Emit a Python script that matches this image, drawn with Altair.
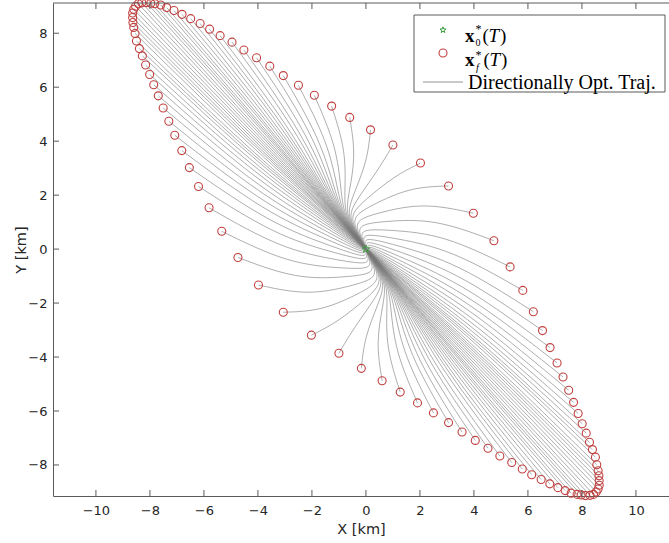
import altair as alt
import pandas as pd
import numpy as np

# ---------------- data ----------------
# final states x_f*(T) (km), going round the reachable-set boundary
xf = [0.17, -0.60, -1.27, -1.91, -2.50, -3.06, -3.56, -4.05, -4.52, -4.96,
      -5.40, -5.79, -6.14, -6.49, -6.81, -7.11, -7.38, -7.60, -7.82, -7.97,
      -8.13, -8.30, -8.43, -8.53, -8.60, -8.64, -8.64, -8.63, -8.60, -8.55,
      -8.50, -8.39, -8.28, -8.16, -8.01, -7.86, -7.69, -7.51, -7.30, -7.08,
      -6.82, -6.54, -6.20, -5.81, -5.34, -4.74, -3.98, -3.06, -2.02, -1.00,
      -0.17, 0.60, 1.27, 1.91, 2.50, 3.06, 3.56, 4.05, 4.52, 4.96,
      5.40, 5.79, 6.14, 6.49, 6.81, 7.11, 7.38, 7.60, 7.82, 7.97,
      8.13, 8.30, 8.43, 8.53, 8.60, 8.64, 8.64, 8.63, 8.60, 8.55,
      8.50, 8.39, 8.28, 8.16, 8.01, 7.86, 7.69, 7.51, 7.30, 7.08,
      6.82, 6.54, 6.20, 5.81, 5.34, 4.74, 3.98, 3.06, 2.02, 1.00]
yf = [4.42, 4.88, 5.30, 5.70, 6.07, 6.43, 6.78, 7.09, 7.38, 7.67,
      7.91, 8.15, 8.36, 8.54, 8.70, 8.84, 8.95, 9.045, 9.09, 9.11,
      9.135, 9.125, 9.09, 9.00, 8.89, 8.75, 8.58, 8.40, 8.215, 7.99,
      7.71, 7.43, 7.16, 6.82, 6.47, 6.09, 5.68, 5.23, 4.74, 4.22,
      3.65, 3.02, 2.32, 1.53, 0.66, -0.31, -1.33, -2.34, -3.19, -3.86,
      -4.42, -4.88, -5.30, -5.70, -6.07, -6.43, -6.78, -7.09, -7.38, -7.67,
      -7.91, -8.15, -8.36, -8.54, -8.70, -8.84, -8.95, -9.045, -9.09, -9.11,
      -9.135, -9.125, -9.09, -9.00, -8.89, -8.75, -8.58, -8.40, -8.215, -7.99,
      -7.71, -7.43, -7.16, -6.82, -6.47, -6.09, -5.68, -5.23, -4.74, -4.22,
      -3.65, -3.02, -2.32, -1.53, -0.66, 0.31, 1.33, 2.34, 3.19, 3.86]
# nominal final state x_0*(T)
x0 = [0.0]
y0 = [0.0]

x_ticks = [-10, -8, -6, -4, -2, 0, 2, 4, 6, 8, 10]
y_ticks = [-8, -6, -4, -2, 0, 2, 4, 6, 8]

X_DOMAIN = [-11.59, 11.225]
Y_DOMAIN = [-9.15, 9.12]
W, H = 616, 493

# ---------------- trajectory shape (style) ----------------
# Each trajectory leaves the origin close to the ellipse's major axis m and
# bends towards its own end point; the library's basis spline draws it through
# a small control polygon expressed in the (m, n) axes of the ellipse.
ang = np.radians(133.4)
m_dir = np.array([np.cos(ang), np.sin(ang)])
n_dir = np.array([m_dir[1], -m_dir[0]])
ALPHA = [0.0, 0.06, 0.13, 0.27, 0.55, 1.0]   # weight of the m-part of the end point
BETA = [0.0, 0.06, 0.13, 0.33, 0.72, 1.0]    # weight of the n-part of the end point
GAMMA = [0.0, 0.22, 0.33, 0.30, 0.20, 0.0]   # early drift of the n-part along m

rows = []
for i, (ex, ey) in enumerate(zip(xf, yf)):
    e = np.array([ex, ey])
    em, en = float(e @ m_dir), float(e @ n_dir)
    for k, (a, b, g) in enumerate(zip(ALPHA, BETA, GAMMA)):
        p = (a * em + g * en) * m_dir + b * en * n_dir
        rows.append({"traj": i, "k": k, "x": float(p[0]), "y": float(p[1])})
traj_df = pd.DataFrame(rows)
end_df = pd.DataFrame({"x": xf, "y": yf})
start_df = pd.DataFrame({"x": x0, "y": y0})

xs = alt.Scale(domain=X_DOMAIN, nice=False, zero=False)
ys = alt.Scale(domain=Y_DOMAIN, nice=False, zero=False)

AX_COL = "#262626"
FRAME = "#5a5a5a"
LINE_COL = "#777777"
RED = "#c0403f"
GREEN = "#3c9c3c"
STAR = ("M0,-1L0.235,-0.324L0.951,-0.309L0.38,0.124L0.588,0.809L0,0.4"
        "L-0.588,0.809L-0.38,0.124L-0.951,-0.309L-0.235,-0.324Z")

x_axis = alt.Axis(values=x_ticks, tickSize=0, labelPadding=8, labelFontSize=13,
                  labelFont="DejaVu Sans", labelColor=AX_COL, title="X [km]",
                  titleFont="DejaVu Sans", titleFontSize=14.5, titleFontWeight="normal",
                  titleColor=AX_COL, titleY=33, titleBaseline="middle",
                  domainColor=FRAME, domainWidth=1, grid=False)
y_axis = alt.Axis(values=y_ticks, tickSize=0, labelPadding=6, labelFontSize=13,
                  labelFont="DejaVu Sans", labelColor=AX_COL, title="Y [km]",
                  titleFont="DejaVu Sans", titleFontSize=14.5, titleFontWeight="normal",
                  titleColor=AX_COL, titleX=-32, titleY=H / 2, titleAngle=-90,
                  titleBaseline="middle", titleAlign="center",
                  domainColor=FRAME, domainWidth=1, grid=False)

lines = alt.Chart(traj_df).mark_line(
    interpolate="basis", color=LINE_COL, strokeWidth=0.6
).encode(
    x=alt.X("x:Q", scale=xs, axis=x_axis),
    y=alt.Y("y:Q", scale=ys, axis=y_axis),
    detail="traj:N",
    order="k:Q",
)

circles = alt.Chart(end_df).mark_point(
    shape="circle", filled=False, color=RED, size=64, strokeWidth=1.1, opacity=1
).encode(x=alt.X("x:Q", scale=xs), y=alt.Y("y:Q", scale=ys))

star = alt.Chart(start_df).mark_point(
    shape=STAR, filled=False, color=GREEN, size=64, strokeWidth=1, opacity=1
).encode(x=alt.X("x:Q", scale=xs), y=alt.Y("y:Q", scale=ys))

# inward tick marks (bottom, top, left) and the top frame line
xt_df = pd.DataFrame({"v": x_ticks})
yt_df = pd.DataFrame({"v": y_ticks})
tick_bottom = alt.Chart(xt_df).mark_rule(color=FRAME, strokeWidth=1).encode(
    x=alt.X("v:Q", scale=xs), y=alt.value(H), y2=alt.value(H - 6))
tick_top = alt.Chart(xt_df).mark_rule(color=FRAME, strokeWidth=1).encode(
    x=alt.X("v:Q", scale=xs), y=alt.value(0), y2=alt.value(6))
tick_left = alt.Chart(yt_df).mark_rule(color=FRAME, strokeWidth=1).encode(
    y=alt.Y("v:Q", scale=ys), x=alt.value(0), x2=alt.value(6))
one = alt.Data(values=[{}])
top_border = alt.Chart(one).mark_rule(color=FRAME, strokeWidth=1).encode(
    x=alt.value(0), x2=alt.value(W), y=alt.value(0))

# legend (drawn by hand so the math labels can mix fonts)
leg_box = alt.Chart(one).mark_rect(fill="white", stroke=FRAME, strokeWidth=1).encode(
    x=alt.value(361), x2=alt.value(612), y=alt.value(12), y2=alt.value(89))
leg_star = alt.Chart(one).mark_point(shape=STAR, filled=False, color=GREEN, size=40,
                                     strokeWidth=1, opacity=1).encode(
    x=alt.value(390), y=alt.value(27))
leg_circle = alt.Chart(one).mark_point(shape="circle", filled=False, color=RED, size=64,
                                       strokeWidth=1.1, opacity=1).encode(
    x=alt.value(390), y=alt.value(50))
leg_line = alt.Chart(one).mark_rule(color=LINE_COL, strokeWidth=0.8).encode(
    x=alt.value(370), x2=alt.value(410), y=alt.value(79))

SERIF = "Liberation Serif"


def txt(t, x, y, size=19, weight="normal", style="normal"):
    return alt.Chart(one).mark_text(
        text=t, font=SERIF, fontSize=size, fontWeight=weight, fontStyle=style,
        align="left", baseline="alphabetic", color="black"
    ).encode(x=alt.value(x), y=alt.value(y))


legend_texts = [
    txt("x", 412, 39, weight="bold"),
    txt("*", 422.5, 30, size=12),
    txt("0", 422.5, 42.5, size=10),
    txt("(", 429.5, 39),
    txt("T", 435.5, 39, style="italic"),
    txt(")", 447, 39),
    txt("x", 412, 63, weight="bold"),
    txt("*", 422.5, 56, size=12),
    txt("f", 423, 67.5, size=10.5, style="italic"),
    txt("(", 430.5, 63),
    txt("T", 436.5, 63, style="italic"),
    txt(")", 448, 63),
    txt("Directionally Opt.  Traj.", 415, 86, size=20),
]

chart = alt.layer(
    lines, circles, star, tick_bottom, tick_top, tick_left, top_border,
    leg_box, leg_star, leg_circle, leg_line, *legend_texts
).properties(
    width=W, height=H,
    autosize=alt.AutoSizeParams(type="none"),
    padding={"left": 53, "top": 3, "right": 0, "bottom": 47},
    background="white",
).configure_view(stroke=None)

chart.save("out.html", embed_options={"renderer": "svg", "actions": False})
